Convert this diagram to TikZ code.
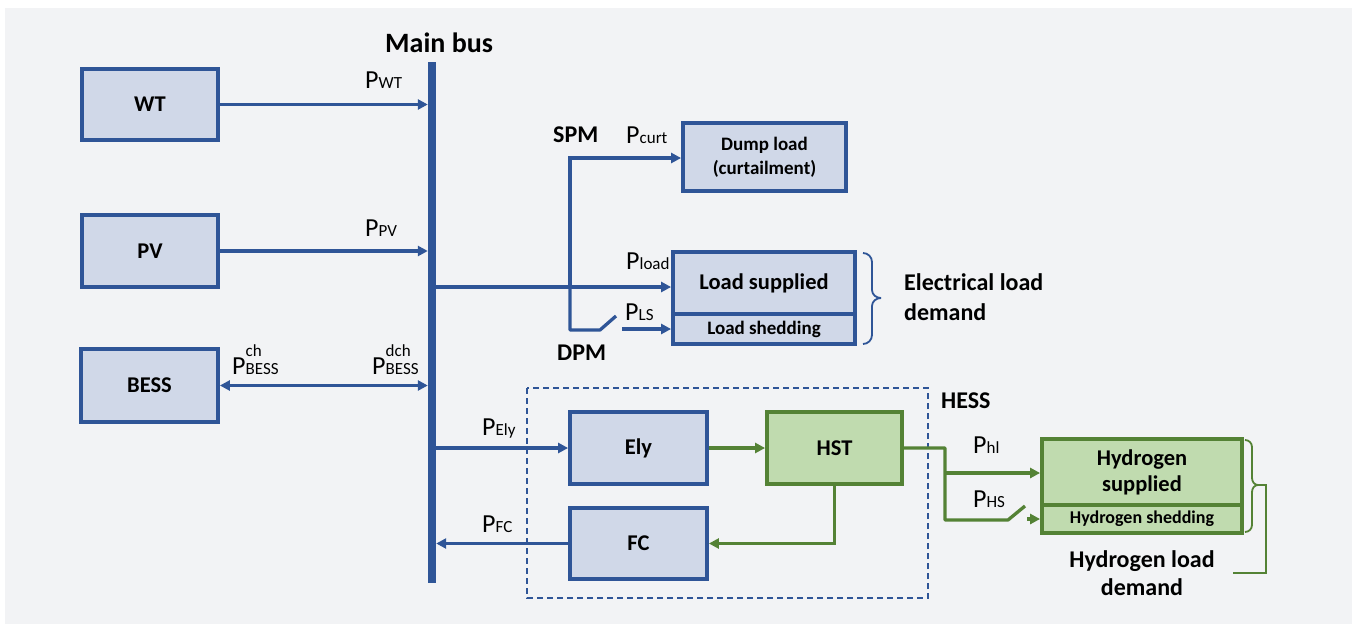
\documentclass[tikz,border=0pt]{standalone}
\usepackage{fontspec}
\setmainfont{Carlito}
\usetikzlibrary{arrows.meta}
\definecolor{bblue}{HTML}{2F5597}
\definecolor{bfill}{HTML}{D0D8E8}
\definecolor{ggreen}{HTML}{548235}
\definecolor{gfill}{HTML}{C0DBAF}
\definecolor{bgc}{HTML}{F2F3F5}
\newcommand\Psub[1]{P{\fontsize{17}{17}\selectfont #1}}
\newcommand\Pstack[2]{P{\fontsize{17}{17}\selectfont\begin{tabular}[b]{@{}l@{}}#1\\[1pt]#2\end{tabular}}}
\begin{document}
\begin{tikzpicture}[x=1pt,y=-1pt,
  blk/.style={draw=bblue,fill=bfill,line width=3.8pt,inner sep=0pt,align=center,font=\bfseries\fontsize{22.5}{25}\selectfont},
  gblk/.style={blk,draw=ggreen,fill=gfill},
  arr/.style={draw=bblue,line width=3.3pt,-{Triangle[length=10pt,width=10pt]}},
  garr/.style={draw=ggreen,line width=3.3pt,-{Triangle[length=10pt,width=10pt]}},
  wire/.style={draw=bblue,line width=3.3pt},
  gwire/.style={draw=ggreen,line width=3.3pt},
  lbl/.style={anchor=base west,inner sep=0pt,font=\fontsize{26}{28}\selectfont},
  ttl/.style={anchor=base west,inner sep=0pt,font=\bfseries\fontsize{24}{30}\selectfont},
]
\useasboundingbox (0,0) rectangle (1357,624);
\fill[bgc] (5,8) rectangle (1352,624);

% main bus
\node[fill=bblue,minimum width=8pt,minimum height=521pt,inner sep=0pt] (bus) at (432,322.5) {};
\node[ttl,font=\bfseries\fontsize{28}{30}\selectfont] (mainbus) at (385,52) {Main bus};

% sources
\node[blk,minimum width=136pt,minimum height=71pt] (WT) at (150,104.5) {WT};
\node[blk,minimum width=136pt,minimum height=72pt] (PV) at (150,251) {PV};
\node[blk,minimum width=137pt,minimum height=73pt] (BESS) at (149.5,385.5) {BESS};

\draw[arr] (WT.east) -- (WT.east -| bus.west);
\draw[arr] (PV.east) -- (PV.east -| bus.west);
\draw[draw=bblue,line width=3.3pt,{Triangle[length=10pt,width=10pt]}-{Triangle[length=10pt,width=10pt]}] (BESS.east) -- (BESS.east -| bus.west);

\node[lbl] (lwt) at (365,88) {\Psub{WT}};
\node[lbl] (lpv) at (365,236) {\Psub{PV}};
\node[lbl] (lbch) at (232,374) {\Pstack{ch}{BESS}};
\node[lbl] (lbdch) at (372,374) {\Pstack{dch}{BESS}};

% electrical loads
\node[blk,minimum width=163pt,minimum height=68pt,font=\bfseries\fontsize{19}{24}\selectfont] (dump) at (764.5,157) {Dump load\\(curtailment)};
\node[blk,minimum width=182pt,minimum height=62pt] (ls) at (764,283) {Load supplied};
\node[blk,minimum width=182pt,minimum height=30pt,font=\bfseries\fontsize{19}{20}\selectfont] (lsh) at (764,329) {Load shedding};

\coordinate (jb) at (570,287);
\coordinate (sw1) at (600,330);
\coordinate (sw2) at (616,316);
\coordinate (sw3) at (622,329);
\draw[arr] (bus.east |- jb) -- (ls.west |- jb);
\draw[arr] (jb) |- (dump.west |- 0,158);
\draw[wire,line join=round] (jb) |- (sw1) -- (sw2);
\draw[arr] (sw3) -- (lsh.west |- sw3);

\node[lbl] (lcurt) at (626,143) {\Psub{curt}};
\node[lbl] (lload) at (626,269) {\Psub{load}};
\node[lbl] (lls) at (625,320) {\Psub{LS}};
\node[ttl] (spm) at (553,142) {SPM};
\node[ttl] (dpm) at (557,360) {DPM};

\draw[bblue,line width=1.8pt] (863,253) to[out=0,in=90] (872,262) -- (872,290) to[out=-90,in=180] (881,298);
\draw[bblue,line width=1.8pt] (881,298) to[out=180,in=90] (872,306) -- (872,335) to[out=-90,in=0] (863,344);
\node[ttl,align=left,anchor=base west] (eld) at (904,320) {Electrical load\\demand};

% HESS
\draw[bblue,line width=1.8pt,dash pattern=on 6pt off 4pt] (527,388) rectangle (928,598);
\node[ttl] (hess) at (941,408) {HESS};

\node[blk,minimum width=137pt,minimum height=72pt] (Ely) at (638.5,448) {Ely};
\node[gblk,minimum width=135pt,minimum height=72pt] (HST) at (834.5,448) {HST};
\node[blk,minimum width=137pt,minimum height=71pt] (FC) at (638.5,543.5) {FC};

\draw[arr] (bus.east |- Ely.west) -- (Ely.west);
\draw[arr] (FC.west) -- (FC.west -| bus.east);
\draw[garr] (Ely.east) -- (HST.west);
\draw[garr] (HST.south) |- (FC.east);

\node[lbl] (lely) at (482,435) {\Psub{Ely}};
\node[lbl] (lfc) at (482,532) {\Psub{FC}};

% hydrogen loads
\node[gblk,minimum width=200pt,minimum height=66pt,font=\bfseries\fontsize{22.5}{26}\selectfont] (hsup) at (1142,472) {Hydrogen\\supplied};
\node[gblk,minimum width=200pt,minimum height=28pt,font=\bfseries\fontsize{18}{18}\selectfont] (hshed) at (1142,519) {Hydrogen shedding};

\coordinate (hj1) at (945,448);
\coordinate (hj2) at (945,473);
\coordinate (hsw1) at (1008,520);
\coordinate (hsw2) at (1025,506);
\coordinate (hsw3) at (1027,519);
\draw[gwire,line join=round] (HST.east) -- (hj1) |- (hsw1) -- (hsw2);
\draw[garr] (hj2) -- (hsup.west |- hj2);
\draw[garr] (hsw3) -- (hshed.west |- hsw3);

\node[lbl] (lhl) at (973,453) {\Psub{hl}};
\node[lbl] (lhs) at (973,507) {\Psub{HS}};

\draw[ggreen,line width=1.8pt] (1245,440) to[out=0,in=90] (1252,447) -- (1252,478) to[out=-90,in=180] (1258,485);
\draw[ggreen,line width=1.8pt] (1258,485) to[out=180,in=90] (1252,492) -- (1252,525) to[out=-90,in=0] (1245,532);
\draw[ggreen,line width=1.5pt] (1257,485) -- (1266,485) -- (1266,573) -- (1233,573);
\node[align=center,inner sep=0pt,anchor=base,font=\bfseries\fontsize{24}{28}\selectfont] (hld) at (1142,595) {Hydrogen load\\demand};
\end{tikzpicture}
\end{document}
